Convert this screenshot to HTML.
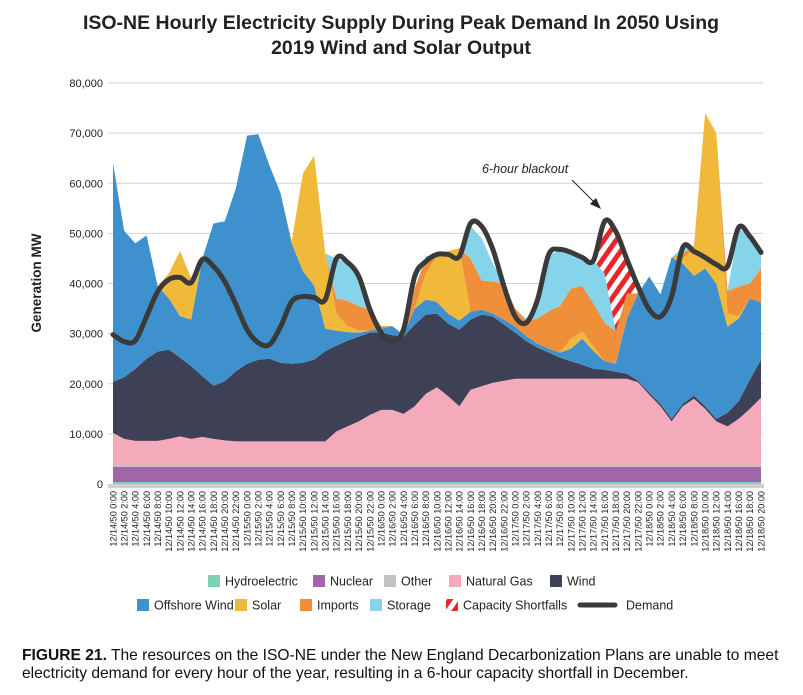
<!DOCTYPE html>
<html><head><meta charset="utf-8">
<style>
html,body{margin:0;padding:0;background:#fff;}
body{width:803px;height:690px;overflow:hidden;font-family:"Liberation Sans",sans-serif;}
svg text{font-family:"Liberation Sans",sans-serif;}
</style></head>
<body>
<svg id="chart" width="803" height="690" viewBox="0 0 803 690">
<defs>
<pattern id="hatch" patternUnits="userSpaceOnUse" width="10" height="10" patternTransform="rotate(35)">
<rect width="10" height="10" fill="#fff"/><rect width="5" height="10" fill="#e8262a"/>
</pattern>
</defs>
<text x="401" y="29" text-anchor="middle" font-size="19.5" font-weight="bold" fill="#222">ISO-NE Hourly Electricity Supply During Peak Demand In 2050 Using</text>
<text x="401" y="54" text-anchor="middle" font-size="19.5" font-weight="bold" fill="#222">2019 Wind and Solar Output</text>
<text transform="translate(41,283) rotate(-90)" text-anchor="middle" font-size="13.5" font-weight="bold" fill="#222">Generation MW</text>
<g id="grid"></g>
<g id="areas"></g>
<g id="xlabels"></g>
<text x="482" y="173" font-size="12.5" font-style="italic" fill="#222">6-hour blackout</text>
<line x1="572" y1="180" x2="595" y2="203" stroke="#222" stroke-width="1"/>
<polygon points="601,209 590,204 596,198" fill="#222"/>
<g id="legend" font-size="12.5" fill="#222"></g>
<text x="22" y="660" font-size="15.6" fill="#111"><tspan font-weight="bold">FIGURE 21.</tspan> The resources on the ISO-NE under the New England Decarbonization Plans are unable to meet</text>
<text x="22" y="678" font-size="15.6" fill="#111">electricity demand for every hour of the year, resulting in a 6-hour capacity shortfall in December.</text>
</svg>
<script>
const yTicks=[0,10000,20000,30000,40000,50000,60000,70000,80000];
const yTickLabels=["0","10,000","20,000","30,000","40,000","50,000","60,000","70,000","80,000"];
const hydro=[400,400,400,400,400,400,400,400,400,400,400,400,400,400,400,400,400,400,400,400,400,400,400,400,400,400,400,400,400,400,400,400,400,400,400,400,400,400,400,400,400,400,400,400,400,400,400,400,400,400,400,400,400,400,400,400,400,400,400];
const nuclear=[3000,3000,3000,3000,3000,3000,3000,3000,3000,3000,3000,3000,3000,3000,3000,3000,3000,3000,3000,3000,3000,3000,3000,3000,3000,3000,3000,3000,3000,3000,3000,3000,3000,3000,3000,3000,3000,3000,3000,3000,3000,3000,3000,3000,3000,3000,3000,3000,3000,3000,3000,3000,3000,3000,3000,3000,3000,3000,3000];
const other=[400,400,400,400,400,400,400,400,400,400,400,400,400,400,400,400,400,400,400,400,400,400,400,400,400,400,400,400,400,400,400,400,400,400,400,400,400,400,400,400,400,400,400,400,400,400,400,400,400,400,400,400,400,400,400,400,400,400,400];
const naturalGas=[6400,5200,4800,4800,4800,5200,5700,5200,5600,5200,4900,4700,4700,4700,4700,4700,4700,4700,4700,4700,6700,7700,8700,10000,11000,11000,10200,11700,14200,15500,13700,11700,15000,15700,16400,16800,17200,17200,17200,17200,17200,17200,17200,17200,17200,17200,17200,16500,14000,11700,8700,11700,13200,11200,8700,7700,9200,11200,13400];
const wind=[10200,12300,14400,16400,17800,17800,15700,14500,12100,10600,11800,14000,15500,16300,16500,15700,15500,15700,16300,18000,17100,17100,16900,16400,15400,14900,15400,16300,15800,14700,14500,15300,14000,14300,13200,11200,9200,7500,6200,5200,4200,3500,2800,2000,1800,1400,1000,300,400,500,500,500,600,500,500,2700,3500,5800,7600];
const offshoreWind=[43600,29200,25000,24600,13100,10200,8300,9300,23500,32400,31900,36500,45500,45000,38600,33800,24000,18300,14800,4500,3000,1700,800,400,800,1800,400,3200,3000,2300,2000,1800,1600,1000,600,1000,1200,1000,800,800,1000,2500,5200,3500,1700,1600,11000,17400,23200,21800,32200,28000,23900,27500,27000,17200,16500,16200,11400];
const solar=[0,0,0,0,0,5000,13000,8200,0,0,0,0,0,0,0,0,500,19500,25900,15000,3400,1200,400,0,0,0,0,0,5200,9200,12500,14400,0,0,0,0,0,0,0,0,0,2000,1500,1000,0,0,0,0,0,0,0,1000,5500,31000,30000,2600,500,0,0];
const imports=[0,0,0,0,0,0,0,0,0,0,0,0,0,0,0,0,0,0,0,0,3000,5000,4900,4200,500,0,0,4000,3000,0,0,0,10600,5800,6400,7200,3600,3000,5000,7500,9300,10000,9000,8500,7700,6400,5000,0,0,0,0,1000,500,0,0,4500,5900,3000,6800];
const storage=[0,0,0,0,0,0,0,0,0,0,0,0,0,0,0,0,0,0,0,0,8000,7700,5900,0,0,0,0,0,500,0,0,0,6500,8400,3600,0,0,500,4000,11300,11000,7000,5500,8600,9800,0,0,0,0,0,0,1200,0,0,0,0,11600,9400,3200];
const shortfall=[0,0,0,0,0,0,0,0,0,0,0,0,0,0,0,0,0,0,0,0,0,0,0,0,0,0,0,0,0,0,0,0,0,0,0,0,0,0,0,0,0,0,0,0,10400,20000,6800,0,0,0,0,0,0,0,0,0,0,0,0];
const demand=[29800,28400,28600,33400,38400,40800,41200,40200,44800,43400,40400,35800,30800,28200,27800,31400,36400,37400,37200,36800,45000,44200,41400,34800,30200,28400,30800,41400,44400,45800,45800,45400,52000,51400,46800,39400,33400,32200,36800,45800,46800,46200,45200,44600,52400,50400,44800,39400,34800,33400,37400,47200,46400,45200,43800,43400,51200,49400,46200];
const categories=[];
for(let i=0;i<59;i++){const h=2*i;categories.push("12/"+(14+Math.floor(h/24))+"/50 "+(h%24)+":00");}

const NS="http://www.w3.org/2000/svg";
const X0=113,X1=761,Y0=484,Y1=83,YMAX=80000;
const xs=i=>X0+i*(X1-X0)/(categories.length-1);
const ys=v=>Y0-v/YMAX*(Y0-Y1);
function mk(tag,attrs,parent){const e=document.createElementNS(NS,tag);for(const k in attrs)e.setAttribute(k,attrs[k]);parent.appendChild(e);return e;}

const grid=document.getElementById('grid');
yTicks.forEach((t,k)=>{
  if(t>0){const l=mk('line',{x1:108,x2:763,y1:ys(t),y2:ys(t),stroke:'#d2d2d2','stroke-width':1},grid);
  
  }
  const tx=mk('text',{x:103,y:ys(t)+4,'text-anchor':'end','font-size':11,fill:'#222'},grid);
  tx.textContent=yTickLabels[k];
  
  
});

const series=[
 {d:hydro,c:'#7fd0b6',n:'hydroelectric-area'},
 {d:nuclear,c:'#a066a8',n:'nuclear-area'},
 {d:other,c:'#c2c2c2',n:'other-area'},
 {d:naturalGas,c:'#f4aabb',n:'natural-gas-area'},
 {d:wind,c:'#3e4055',n:'wind-area'},
 {d:offshoreWind,c:'#3f91cd',n:'offshore-wind-area'},
 {d:solar,c:'#f1b93a',n:'solar-area'},
 {d:imports,c:'#ef8f3a',n:'imports-area'},
 {d:storage,c:'#86d4ea',n:'storage-area'},
 {d:shortfall,c:'url(#hatch)',n:'capacity-shortfall-area'}
];
const areas=document.getElementById('areas');
let base=categories.map(()=>0);
series.forEach(s=>{
  const top=base.map((b,i)=>b+s.d[i]);
  let p='M'+xs(0)+','+ys(top[0]);
  for(let i=1;i<top.length;i++)p+=' L'+xs(i)+','+ys(top[i]);
  for(let i=top.length-1;i>=0;i--)p+=' L'+xs(i)+','+ys(base[i]);
  const path=mk('path',{d:p+'Z',fill:s.c},areas);
  
  
  base=top;
});
const axis=mk('rect',{x:108,y:484,width:656,height:4,fill:'#d0d0d0'},areas);



let dp='M'+xs(0)+','+ys(demand[0]);
for(let i=0;i<demand.length-1;i++){
  const p0=[xs(Math.max(i-1,0)),ys(demand[Math.max(i-1,0)])],p1=[xs(i),ys(demand[i])],p2=[xs(i+1),ys(demand[i+1])],p3=[xs(Math.min(i+2,demand.length-1)),ys(demand[Math.min(i+2,demand.length-1)])];
  const c1=[p1[0]+(p2[0]-p0[0])/6,p1[1]+(p2[1]-p0[1])/6],c2=[p2[0]-(p3[0]-p1[0])/6,p2[1]-(p3[1]-p1[1])/6];
  dp+=' C'+c1[0]+','+c1[1]+' '+c2[0]+','+c2[1]+' '+p2[0]+','+p2[1];
}
const dl=mk('path',{d:dp,fill:'none',stroke:'#3a3a3a','stroke-width':5,'stroke-linejoin':'round','stroke-linecap':'round'},areas);



const xl=document.getElementById('xlabels');
categories.forEach((c,i)=>{
  const t=mk('text',{transform:'translate('+(xs(i)+3.3)+',491) rotate(-90)','text-anchor':'end','font-size':9.1,fill:'#222'},xl);
  t.textContent=c;
  
  
});

const legend=document.getElementById('legend');
const items=[
 {x:208,y:575,c:'#7fd0b6',t:'Hydroelectric',n:'legend-hydroelectric'},
 {x:313,y:575,c:'#a066a8',t:'Nuclear',n:'legend-nuclear'},
 {x:384,y:575,c:'#c2c2c2',t:'Other',n:'legend-other'},
 {x:449,y:575,c:'#f4aabb',t:'Natural Gas',n:'legend-natural-gas'},
 {x:550,y:575,c:'#3e4055',t:'Wind',n:'legend-wind'},
 {x:137,y:599,c:'#3f91cd',t:'Offshore Wind',n:'legend-offshore-wind'},
 {x:235,y:599,c:'#f1b93a',t:'Solar',n:'legend-solar'},
 {x:300,y:599,c:'#ef8f3a',t:'Imports',n:'legend-imports'},
 {x:370,y:599,c:'#86d4ea',t:'Storage',n:'legend-storage'},
 {x:446,y:599,c:'url(#hatch)',t:'Capacity Shortfalls',n:'legend-capacity-shortfalls'}
];
items.forEach(it=>{
  const g=mk('g',{},legend);
  
  
  mk('rect',{x:it.x,y:it.y,width:12,height:12,fill:it.c},g);
  const t=mk('text',{x:it.x+17,y:it.y+10.5},g);
  t.textContent=it.t;
});
const dg=mk('g',{},legend);


mk('line',{x1:580,x2:615,y1:605,y2:605,stroke:'#3a3a3a','stroke-width':5,'stroke-linecap':'round'},dg);
const dt=mk('text',{x:626,y:609.5},dg);
dt.textContent='Demand';
</script>
</body></html>
